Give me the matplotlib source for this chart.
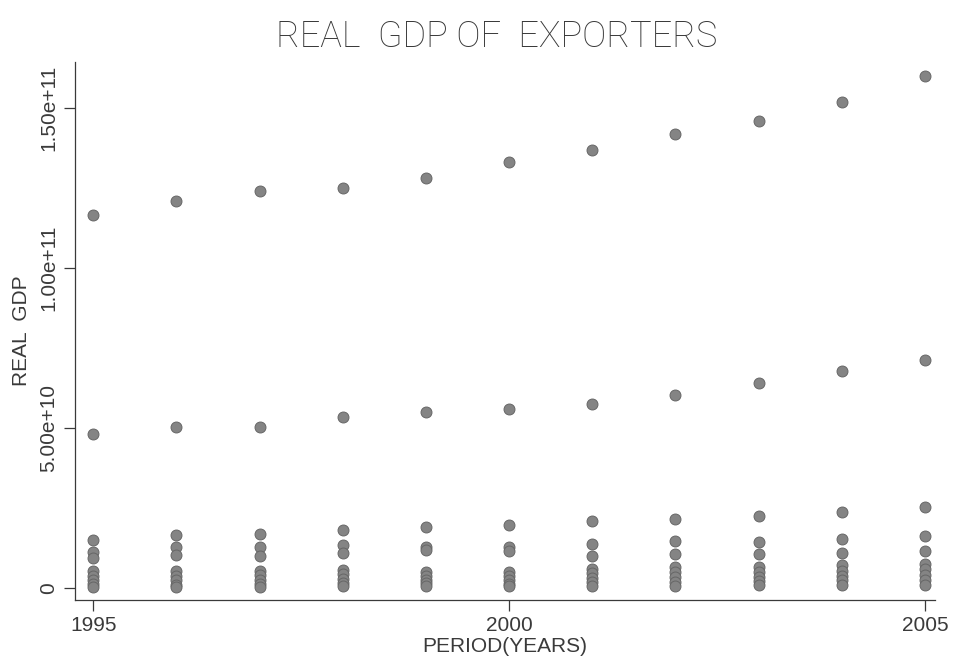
import matplotlib
matplotlib.use("Agg")
import matplotlib.pyplot as plt
import matplotlib.ticker as mticker

# ── DATA ──────────────────────────────────────────────────────────────────────

years = [1995, 1996, 1997, 1998, 1999, 2000, 2001, 2002, 2003, 2004, 2005]

# real GDP per exporter, in units of 1e10
gdp_a = [11.66, 12.10, 12.40, 12.50, 12.80, 13.30, 13.70, 14.20, 14.60, 15.20, 16.00]
gdp_b = [4.81, 5.03, 5.03, 5.34, 5.50, 5.59, 5.75, 6.03, 6.41, 6.78, 7.13]
gdp_c = [1.50, 1.66, 1.69, 1.81, 1.91, 1.97, 2.09, 2.16, 2.25, 2.38, 2.53]
gdp_d = [1.12, 1.28, 1.28, 1.34, 1.28, 1.28, 1.37, 1.47, 1.44, 1.53, 1.63]
gdp_e = [0.94, 1.03, 1.00, 1.09, 1.19, 1.16, 1.00, 1.06, 1.06, 1.09, 1.16]
gdp_f = [0.52, 0.52, 0.54, 0.56, 0.50, 0.48, 0.60, 0.64, 0.66, 0.72, 0.76]
gdp_g = [0.38, 0.38, 0.40, 0.42, 0.38, 0.36, 0.45, 0.48, 0.50, 0.54, 0.58]
gdp_h = [0.24, 0.24, 0.26, 0.28, 0.26, 0.24, 0.31, 0.33, 0.35, 0.37, 0.40]
gdp_i = [0.12, 0.10, 0.12, 0.15, 0.14, 0.13, 0.17, 0.19, 0.21, 0.23, 0.26]
gdp_j = [0.04, 0.03, 0.04, 0.05, 0.05, 0.05, 0.06, 0.07, 0.08, 0.09, 0.10]

exporters = [gdp_a, gdp_b, gdp_c, gdp_d, gdp_e, gdp_f, gdp_g, gdp_h, gdp_i, gdp_j]

y_ticks = [0, 5e10, 1e11, 1.5e11]
y_tick_labels = ["0", "5.00e+10", "1.00e+11", "1.50e+11"]
x_ticks = [1995, 2000, 2005]

# ── PLOT ──────────────────────────────────────────────────────────────────────

plt.rcParams["font.family"] = ["Liberation Sans", "DejaVu Sans"]
INK = "#3a3a3a"

fig = plt.figure(figsize=(9.55, 6.65), dpi=100)
ax = fig.add_axes([0.0785, 0.098, 0.9005, 0.809])

for series in exporters:
    ax.scatter(years, [v * 1e10 for v in series], s=62, color="#848484",
               edgecolors="#666666", linewidths=0.7, zorder=3)

ax.set_xlim(1994.78, 2005.12)
ax.set_ylim(-0.375e10, 16.44e10)

ax.set_xticks(x_ticks)
ax.set_yticks(y_ticks)
ax.yaxis.set_major_formatter(mticker.FixedFormatter(y_tick_labels))
for lab in ax.get_yticklabels():
    lab.set_rotation(90)
    lab.set_va("center")

ax.tick_params(axis="both", direction="out", length=8, width=0.9, colors=INK,
               labelsize=15, pad=4)
ax.spines[["top", "right"]].set_visible(False)
for side in ["left", "bottom"]:
    ax.spines[side].set_color(INK)
    ax.spines[side].set_linewidth(0.9)

ax.set_xlabel("PERIOD(YEARS)", fontsize=15, color=INK, labelpad=1)
ax.set_ylabel("REAL  GDP", fontsize=15, color=INK, labelpad=6)
fig.text(0.52, 0.945, "REAL  GDP OF  EXPORTERS", fontsize=26, color="#383838",
         ha="center", va="center", family=["Roboto", "Liberation Sans"],
         fontweight="light")

fig.savefig("out.png", dpi=100, facecolor="white")
